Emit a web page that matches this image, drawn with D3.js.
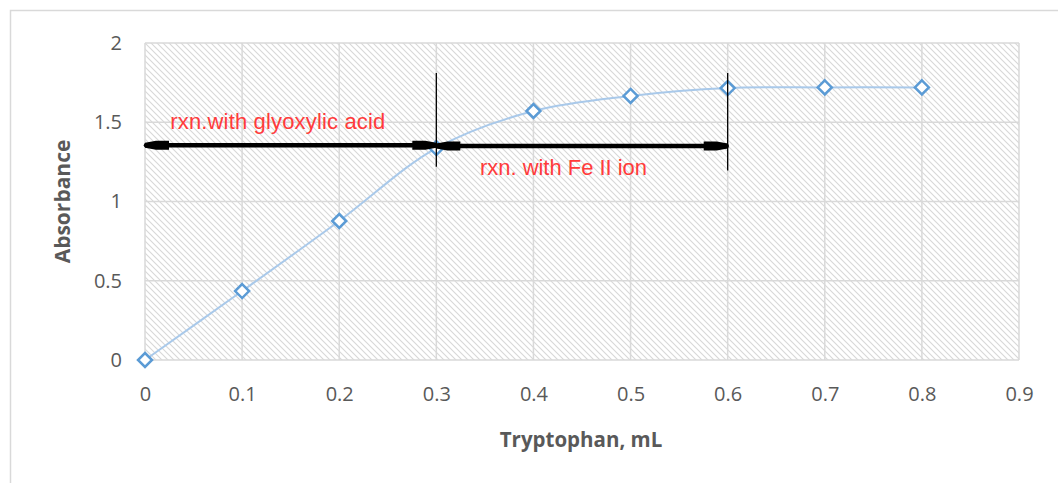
<!DOCTYPE html>
<html>
<head>
<meta charset="utf-8">
<script src="https://cdn.jsdelivr.net/npm/d3@7/dist/d3.min.js"></script>
<style>
  html, body { margin: 0; padding: 0; background: #fff; }
  svg { display: block; }
</style>
</head>
<body>
<svg id="chart" width="1058" height="483"></svg>
<script>
// Tryptophan volume (mL) vs. absorbance
const volumes = [0, 0.1, 0.2, 0.3, 0.4, 0.5, 0.6, 0.7, 0.8];
const absorbance = [0, 0.435, 0.877, 1.337, 1.571, 1.666, 1.716, 1.72, 1.72];
const xTicks = [0, 0.1, 0.2, 0.3, 0.4, 0.5, 0.6, 0.7, 0.8, 0.9];
const yTicks = [0, 0.5, 1, 1.5, 2];

// Reaction ranges marked by double-headed arrows
const ranges = [
  { label: "rxn.with glyoxylic acid", from: 0, to: 0.3, level: 1.355, labelX: 0.026, labelY: 1.455 },
  { label: "rxn. with Fe II ion", from: 0.3, to: 0.6, level: 1.35, labelX: 0.345, labelY: 1.165 }
];
const dividers = [
  { at: 0.3, top: 1.81, bottom: 1.22 },
  { at: 0.6, top: 1.81, bottom: 1.195 }
];

const svg = d3.select("#chart");
const margin = { left: 145, right: 1058 - 1019, top: 43, bottom: 483 - 360 };
const W = 1058, H = 483;

const x = d3.scaleLinear().domain([0, 0.9]).range([margin.left, W - margin.right]);
const y = d3.scaleLinear().domain([0, 2]).range([H - margin.bottom, margin.top]);

// Chart frame
svg.append("rect")
  .attr("x", 10.5).attr("y", 10.5)
  .attr("width", W + 10).attr("height", H + 10)
  .attr("fill", "#fff").attr("stroke", "#d9d9d9").attr("stroke-width", 1.5);

// Diagonal hatch fill for the plot area
const defs = svg.append("defs");
const pat = defs.append("pattern")
  .attr("id", "hatch").attr("patternUnits", "userSpaceOnUse")
  .attr("width", 6).attr("height", 6);
pat.append("rect").attr("width", 6).attr("height", 6).attr("fill", "#fff");
pat.append("path")
  .attr("d", "M-1,-1 L7,7 M-1,5 L1,7 M5,-1 L7,1")
  .attr("stroke", "#d8d8d8").attr("stroke-width", 1.1);

svg.append("rect")
  .attr("x", x(0)).attr("y", y(2))
  .attr("width", x(0.9) - x(0)).attr("height", y(0) - y(2))
  .attr("fill", "url(#hatch)");

// Gridlines
const grid = svg.append("g").attr("stroke", "#d9d9d9").attr("stroke-width", 1.5);
grid.selectAll(".gx").data(xTicks).join("line")
  .attr("x1", d => x(d)).attr("x2", d => x(d))
  .attr("y1", y(0)).attr("y2", y(2));
grid.selectAll(".gy").data(yTicks).join("line")
  .attr("x1", x(0)).attr("x2", x(0.9))
  .attr("y1", d => y(d)).attr("y2", d => y(d));

// Axes (labels only)
const tickFont = "'Open Sans', 'Liberation Sans', sans-serif";
const xAxis = svg.append("g")
  .attr("transform", `translate(0,${y(0)})`)
  .call(d3.axisBottom(x).tickValues(xTicks).tickFormat(d3.format("")).tickSize(0).tickPadding(27));
const yAxis = svg.append("g")
  .attr("transform", `translate(${x(0)},0)`)
  .call(d3.axisLeft(y).tickValues(yTicks).tickFormat(d3.format("")).tickSize(0).tickPadding(23));
[xAxis, yAxis].forEach(a => {
  a.select(".domain").remove();
  a.selectAll("text").attr("fill", "#595959").attr("font-size", 20).attr("font-family", tickFont);
});

// Axis titles
svg.append("text")
  .attr("x", 581).attr("y", 447)
  .attr("text-anchor", "middle")
  .attr("font-family", tickFont).attr("font-weight", "bold")
  .attr("font-size", 20.5).attr("fill", "#595959")
  .text("Tryptophan, mL");
svg.append("text")
  .attr("transform", `translate(70,${y(1)}) rotate(-90)`)
  .attr("text-anchor", "middle")
  .attr("font-family", tickFont).attr("font-weight", "bold")
  .attr("font-size", 21).attr("fill", "#595959")
  .text("Absorbance");

// Data series: smoothed line with hollow diamond markers
const line = d3.line()
  .x((d, i) => x(volumes[i]))
  .y(d => y(d))
  .curve(d3.curveCatmullRom.alpha(0.5));
svg.append("path")
  .datum(absorbance)
  .attr("d", line)
  .attr("fill", "none").attr("stroke", "#a9c9ea").attr("stroke-width", 2);

svg.append("g").selectAll("path").data(absorbance).join("path")
  .attr("transform", (d, i) => `translate(${x(volumes[i])},${y(d)})`)
  .attr("d", "M0,-7 L7,0 L0,7 L-7,0 Z")
  .attr("fill", "#fff").attr("stroke", "#5b9bd5").attr("stroke-width", 2.5);

// Range dividers
svg.append("g").selectAll("line").data(dividers).join("line")
  .attr("x1", d => x(d.at)).attr("x2", d => x(d.at))
  .attr("y1", d => y(d.top)).attr("y2", d => y(d.bottom))
  .attr("stroke", "#000").attr("stroke-width", 1.3);

// Double-headed arrows with block heads
const arrows = svg.append("g").attr("fill", "#000");
ranges.forEach(r => {
  const x0 = x(r.from), x1 = x(r.to), yy = y(r.level);
  arrows.append("line")
    .attr("x1", x0 + 1).attr("x2", x1 - 1).attr("y1", yy).attr("y2", yy)
    .attr("stroke", "#000").attr("stroke-width", 4.5).attr("stroke-linecap", "round");
  [[x0, 1], [x1, -1]].forEach(([ex, dir]) => {
    arrows.append("path")
      .attr("d", `M${ex},${yy - 2.5} L${ex + dir * 11},${yy - 4.5} L${ex + dir * 24},${yy - 4.5} L${ex + dir * 24},${yy + 4.5} L${ex + dir * 11},${yy + 4.5} L${ex},${yy + 2.5} Z`);
  });
  svg.append("text")
    .attr("x", x(r.labelX)).attr("y", y(r.labelY))
    .attr("font-family", "'Liberation Sans', Arial, sans-serif")
    .attr("font-size", 22).attr("fill", "#ff3b3b")
    .attr("textLength", r.from === 0 ? 215 : 167)
    .text(r.label);
});
</script>
</body>
</html>
